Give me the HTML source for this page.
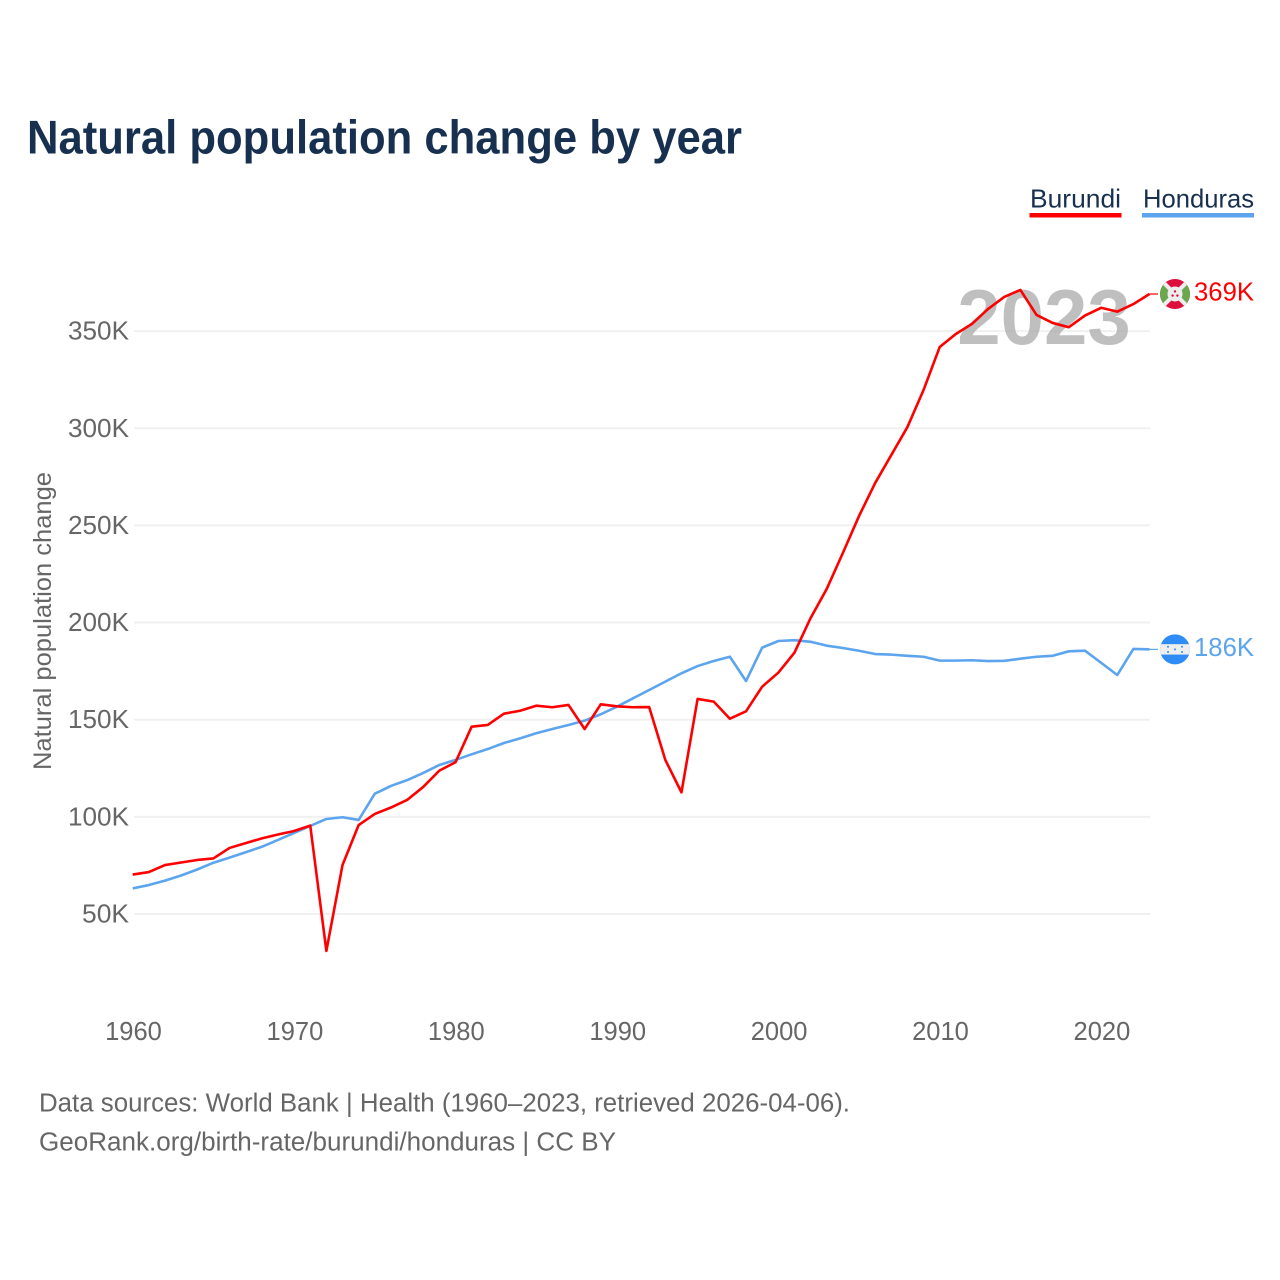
<!DOCTYPE html>
<html lang="en">
<head>
<meta charset="utf-8">
<title>Natural population change by year</title>
<style>
  html, body { margin: 0; padding: 0; background: #fff; }
  svg { display: block; font-family: "Liberation Sans", sans-serif; }
</style>
</head>
<body>
<svg id="chart" xmlns="http://www.w3.org/2000/svg" width="1280" height="1280" viewBox="0 0 1280 1280">
  <rect x="0" y="0" width="1280" height="1280" fill="#ffffff"/>
  <text x="27" y="153.5" font-size="47" font-weight="700" fill="#18304f" textLength="715" lengthAdjust="spacingAndGlyphs">Natural population change by year</text>

  <g>
    <g>
      <text x="1030" y="207.5" font-size="26" fill="#18304f" textLength="91" lengthAdjust="spacingAndGlyphs">Burundi</text>
      <rect x="1029.5" y="213" width="92" height="4.5" fill="#ff0000"/>
    </g>
    <g>
      <text x="1143" y="207.5" font-size="26" fill="#18304f" textLength="111" lengthAdjust="spacingAndGlyphs">Honduras</text>
      <rect x="1142" y="213" width="112" height="4.5" fill="#5ca5ee"/>
    </g>
  </g>

  <g id="grid"></g>
  <g id="yticks"></g>
  <g id="xticks"></g>

  <text transform="translate(51,621) rotate(-90)" text-anchor="middle" font-size="25" fill="#666666" textLength="298" lengthAdjust="spacingAndGlyphs">Natural population change</text>

  <text id="year-watermark" x="1044" y="344" text-anchor="middle" font-size="78" font-weight="700" fill="#aaaaaa" fill-opacity="0.75"></text>

  <g id="series"></g>

  <g id="flag-burundi">
    <defs>
      <clipPath id="clip-bi"><circle cx="0" cy="0" r="15"/></clipPath>
      <clipPath id="clip-hn"><circle cx="0" cy="0" r="15"/></clipPath>
    </defs>
    <g clip-path="url(#clip-bi)">
      <rect x="-16" y="-16" width="32" height="32" fill="#dd0f3c"/>
      <polygon points="-16,-16 0,0 -16,16" fill="#6aa84f"/>
      <polygon points="16,-16 0,0 16,16" fill="#6aa84f"/>
      <line x1="-16" y1="-16" x2="16" y2="16" stroke="#eeeeee" stroke-width="4"/>
      <line x1="-16" y1="16" x2="16" y2="-16" stroke="#eeeeee" stroke-width="4"/>
      <circle cx="0" cy="0" r="7.5" fill="#eeeeee"/>
      <circle cx="0" cy="-2.6" r="1.2" fill="#dd0f3c"/>
      <circle cx="-2.4" cy="1.6" r="1.2" fill="#dd0f3c"/>
      <circle cx="2.4" cy="1.6" r="1.2" fill="#dd0f3c"/>
    </g>
  </g>
  <g id="flag-honduras">
    <g clip-path="url(#clip-hn)">
      <rect x="-16" y="-16" width="32" height="32" fill="#2f8cf5"/>
      <rect x="-16" y="-5.2" width="32" height="10.4" fill="#eeeeee"/>
      <circle cx="-7" cy="-2.6" r="1" fill="#2f8cf5"/>
      <circle cx="7" cy="-2.6" r="1" fill="#2f8cf5"/>
      <circle cx="0" cy="0" r="1" fill="#2f8cf5"/>
      <circle cx="-7" cy="2.6" r="1" fill="#2f8cf5"/>
      <circle cx="7" cy="2.6" r="1" fill="#2f8cf5"/>
    </g>
  </g>

  <g id="endlabels"></g>

  <text x="39" y="1111.5" font-size="25.5" fill="#666666" textLength="811" lengthAdjust="spacingAndGlyphs">Data sources: World Bank | Health (1960–2023, retrieved 2026-04-06).</text>
  <text x="39" y="1150.5" font-size="25.5" fill="#666666" textLength="577" lengthAdjust="spacingAndGlyphs">GeoRank.org/birth-rate/burundi/honduras | CC BY</text>
</svg>

<script>
var firstYear = 1960;
var burundiValues = [70.3,71.6,75.2,76.5,77.8,78.6,84.0,86.5,88.9,90.9,92.7,95.5,31.0,75.2,95.8,101.5,104.8,108.7,115.4,123.8,128.1,146.4,147.3,153.1,154.6,157.2,156.4,157.6,145.2,157.9,156.9,156.4,156.5,129.3,112.6,160.7,159.3,150.5,154.3,167.0,174.2,184.5,202.3,217.3,235.8,254.8,271.8,286.2,300.6,319.7,341.8,348.5,353.7,361.4,367.6,371.2,358.3,354.2,352.0,358.0,362.0,360.0,363.9,369.1];
var hondurasValues = [63.2,64.9,67.2,69.8,72.9,76.4,79.0,81.8,84.6,88.1,91.7,95.3,98.9,99.8,98.4,111.9,115.9,118.9,122.6,126.7,129.3,132.2,134.9,138.0,140.4,143.0,145.2,147.3,149.5,152.8,156.7,161.0,165.3,169.6,173.9,177.6,180.2,182.4,169.9,187.1,190.5,190.9,190.1,188.1,186.9,185.5,183.8,183.5,182.9,182.4,180.4,180.4,180.6,180.2,180.3,181.4,182.4,182.9,185.2,185.5,179.3,173.0,186.4,186.2];
var yTickValues = [50,100,150,200,250,300,350];
var xTickYears = [1960,1970,1980,1990,2000,2010,2020];

var NS = 'http://www.w3.org/2000/svg';
function xScale(year) { return 132.7 + (year - 1960) * 16.14; }
function yScale(k) { return 914 - (k - 50) * 1.943; }
function xTickScale(year) { return xScale(year) + 0.8; }

var gridGroup = document.getElementById('grid');
var yTickGroup = document.getElementById('yticks');
var xTickGroup = document.getElementById('xticks');
var seriesGroup = document.getElementById('series');
var endGroup = document.getElementById('endlabels');

yTickValues.forEach(function (k) {
  var line = document.createElementNS(NS, 'line');
  
  
  line.setAttribute('x1', 134);
  line.setAttribute('x2', 1150);
  line.setAttribute('y1', yScale(k));
  line.setAttribute('y2', yScale(k));
  line.setAttribute('stroke', '#f0f0f0');
  line.setAttribute('stroke-width', 2);
  gridGroup.appendChild(line);

  var label = document.createElementNS(NS, 'text');
  
  
  label.setAttribute('x', 129);
  label.setAttribute('y', yScale(k) + 8.5);
  label.setAttribute('text-anchor', 'end');
  label.setAttribute('font-size', 25.5);
  label.setAttribute('fill', '#666666');
  label.setAttribute('textLength', k < 100 ? 47 : 61);
  label.setAttribute('lengthAdjust', 'spacingAndGlyphs');
  label.textContent = k + 'K';
  yTickGroup.appendChild(label);
});

xTickYears.forEach(function (year) {
  var label = document.createElementNS(NS, 'text');
  
  
  label.setAttribute('x', xTickScale(year));
  label.setAttribute('y', 1040);
  label.setAttribute('text-anchor', 'middle');
  label.setAttribute('font-size', 25.5);
  label.setAttribute('fill', '#666666');
  label.textContent = year;
  xTickGroup.appendChild(label);
});

function pointsFor(values) {
  return values.map(function (k, i) {
    return xScale(firstYear + i).toFixed(2) + ',' + yScale(k).toFixed(2);
  }).join(' ');
}

var hondurasLine = document.createElementNS(NS, 'polyline');


hondurasLine.setAttribute('points', pointsFor(hondurasValues));
hondurasLine.setAttribute('fill', 'none');
hondurasLine.setAttribute('stroke', '#5ca5ee');
hondurasLine.setAttribute('stroke-width', 2.6);
hondurasLine.setAttribute('stroke-linejoin', 'round');
seriesGroup.appendChild(hondurasLine);

var burundiLine = document.createElementNS(NS, 'polyline');


burundiLine.setAttribute('points', pointsFor(burundiValues));
burundiLine.setAttribute('fill', 'none');
burundiLine.setAttribute('stroke', '#ff0000');
burundiLine.setAttribute('stroke-width', 2.6);
burundiLine.setAttribute('stroke-linejoin', 'round');
seriesGroup.appendChild(burundiLine);

var lastYear = firstYear + burundiValues.length - 1;
document.getElementById('year-watermark').textContent = lastYear;

var lastBurundi = burundiValues[burundiValues.length - 1];
var lastHonduras = hondurasValues[hondurasValues.length - 1];

var burundiConnector = document.createElementNS(NS, 'line');


burundiConnector.setAttribute('x1', xScale(lastYear));
burundiConnector.setAttribute('x2', 1158);
burundiConnector.setAttribute('y1', yScale(lastBurundi));
burundiConnector.setAttribute('y2', yScale(lastBurundi));
burundiConnector.setAttribute('stroke', '#ff0000');
burundiConnector.setAttribute('stroke-width', 1.2);
seriesGroup.appendChild(burundiConnector);

var hondurasConnector = document.createElementNS(NS, 'line');


hondurasConnector.setAttribute('x1', xScale(lastYear));
hondurasConnector.setAttribute('x2', 1158);
hondurasConnector.setAttribute('y1', yScale(lastHonduras));
hondurasConnector.setAttribute('y2', yScale(lastHonduras));
hondurasConnector.setAttribute('stroke', '#5ca5ee');
hondurasConnector.setAttribute('stroke-width', 1.2);
seriesGroup.appendChild(hondurasConnector);

document.getElementById('flag-burundi').setAttribute('transform', 'translate(1175,' + yScale(lastBurundi) + ')');
document.getElementById('flag-honduras').setAttribute('transform', 'translate(1175,' + yScale(lastHonduras) + ')');

var burundiEnd = document.createElementNS(NS, 'text');


burundiEnd.setAttribute('x', 1194);
burundiEnd.setAttribute('y', yScale(lastBurundi) + 6.5);
burundiEnd.setAttribute('font-size', 25.5);
burundiEnd.setAttribute('fill', '#ff0000');
burundiEnd.setAttribute('textLength', 60);
burundiEnd.setAttribute('lengthAdjust', 'spacingAndGlyphs');
burundiEnd.textContent = Math.round(lastBurundi) + 'K';
endGroup.appendChild(burundiEnd);

var hondurasEnd = document.createElementNS(NS, 'text');


hondurasEnd.setAttribute('x', 1194);
hondurasEnd.setAttribute('y', yScale(lastHonduras) + 6.5);
hondurasEnd.setAttribute('font-size', 25.5);
hondurasEnd.setAttribute('fill', '#5ca5ee');
hondurasEnd.setAttribute('textLength', 60);
hondurasEnd.setAttribute('lengthAdjust', 'spacingAndGlyphs');
hondurasEnd.textContent = Math.round(lastHonduras) + 'K';
endGroup.appendChild(hondurasEnd);
</script>
</body>
</html>
